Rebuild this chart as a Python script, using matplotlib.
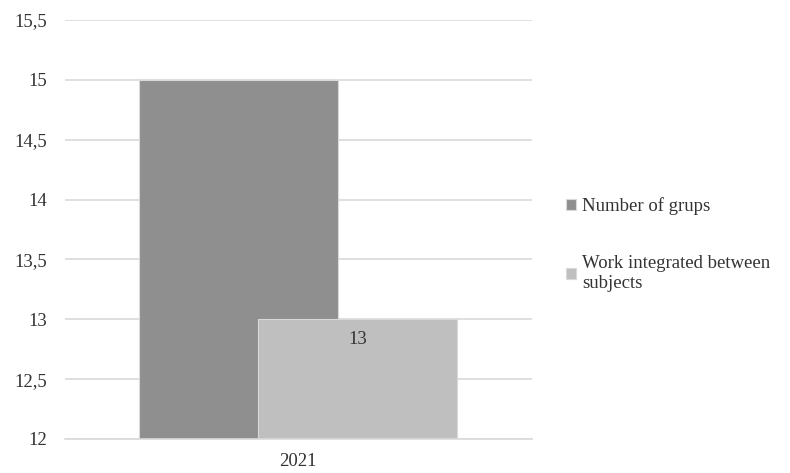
import matplotlib.pyplot as plt
from matplotlib.ticker import FuncFormatter

plt.rcParams['font.family'] = ['Liberation Serif', 'DejaVu Serif']

year = '2021'
series_names = ['Number of grups', 'Work integrated between\nsubjects']
series_values = [15, 13]
colors = ['#8f8f8f', '#bfbfbf']

fig = plt.figure(figsize=(7.9, 4.73), dpi=100)
ax = fig.add_axes([0.0823, 0.0719, 0.5907, 0.8858])

centers = [0.3715, 0.627]
width = 0.426
bars = []
for c, v, col, name in zip(centers, series_values, colors, series_names):
    b = ax.bar(c, v - 12, bottom=12, width=width, color=col, label=name,
               edgecolor='#d9d9d9', linewidth=0.8, zorder=2)
    bars.append(b)

# value label only on the second series
ax.text(centers[1], series_values[1] - 0.1, str(series_values[1]),
        ha='center', va='top', fontsize=13.5, color='#333333', zorder=3)

ax.set_xlim(0, 1)
ax.set_ylim(12, 15.5)
ax.set_yticks([12 + 0.5 * i for i in range(8)])
ax.yaxis.set_major_formatter(FuncFormatter(lambda v, p: ('%g' % v).replace('.', ',')))
ax.set_xticks([0.5])
ax.set_xticklabels([year])
ax.grid(axis='y', color='#d9d9d9', linewidth=1.2, zorder=0)
ax.set_axisbelow(True)
for s in ['top', 'right', 'left']:
    ax.spines[s].set_visible(False)
ax.spines['bottom'].set_color('#d9d9d9')
ax.spines['bottom'].set_linewidth(1.2)
ax.tick_params(length=0, labelsize=13.5, colors='#333333')
ax.tick_params(axis='y', pad=13)
ax.tick_params(axis='x', pad=10)

leg = fig.legend(handles=[b[0] for b in bars], labels=series_names,
                 loc='upper left', bbox_to_anchor=(0.695, 0.619), frameon=False,
                 fontsize=13.5, handlelength=0.55, handleheight=0.55, handletextpad=0.3,
                 labelspacing=2.15, labelcolor='#333333')
for t in leg.get_texts():
    t.set_linespacing(1.2)

fig.savefig('out.png', dpi=100)
